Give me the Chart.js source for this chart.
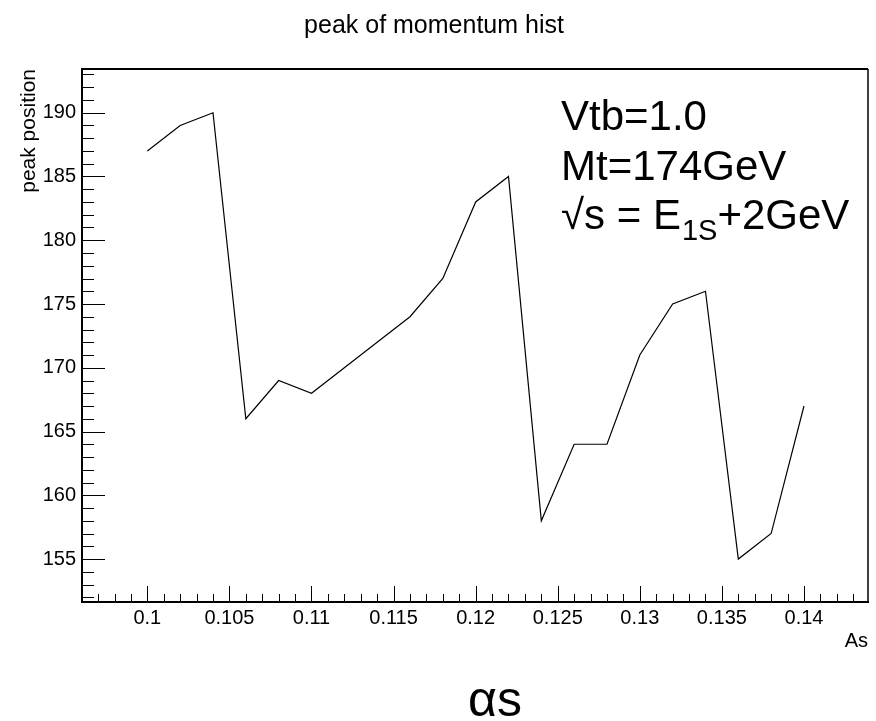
<!DOCTYPE html>
<html>
<head>
<meta charset="utf-8">
<script src="https://cdn.jsdelivr.net/npm/chart.js@4"></script>
<style>
    html, body { margin: 0; padding: 0; background: #fff; }
    #wrap { width: 876px; height: 721px; }
</style>
</head>
<body>
<div id="wrap"><canvas id="myChart"></canvas></div>
<script>
    const alphaS = [0.100, 0.102, 0.104, 0.106, 0.108, 0.110, 0.112, 0.114, 0.116, 0.118, 0.120,
                    0.122, 0.124, 0.126, 0.128, 0.130, 0.132, 0.134, 0.136, 0.138, 0.140];
    const peakPos = [187, 189, 190, 166, 169, 168, 170, 172, 174, 177, 183,
                     185, 158, 164, 164, 171, 175, 176, 155, 157, 167];
    const xTicks = [0.1, 0.105, 0.11, 0.115, 0.12, 0.125, 0.13, 0.135, 0.14];
    const yTicks = [155, 160, 165, 170, 175, 180, 185, 190];
    const infoLines = ['Vtb=1.0', 'Mt=174GeV'];

    const FONT = "'Liberation Sans', Arial, Helvetica, sans-serif";
    Chart.defaults.font.family = FONT;
    Chart.defaults.color = '#000';

    // ROOT-like frame: ticks pointing inward, top/right border, text box
    const rootFrame = {
        id: 'rootFrame',
        afterDatasetsDraw(chart) {
            const { ctx, chartArea: a, scales: { x, y } } = chart;
            ctx.save();
            ctx.strokeStyle = '#000';
            ctx.lineWidth = 1;
            ctx.beginPath();
            for (let i = 97; i <= 143; i++) {
                const px = Math.round(x.getPixelForValue(i / 1000)) + 0.5;
                const len = i % 5 === 0 ? 16 : 8;
                ctx.moveTo(px, a.bottom);
                ctx.lineTo(px, a.bottom - len);
            }
            for (let v = 152; v <= 193; v++) {
                const py = Math.round(y.getPixelForValue(v)) + 0.5;
                const len = v % 5 === 0 ? 23 : 12;
                ctx.moveTo(a.left, py);
                ctx.lineTo(a.left + len, py);
            }
            ctx.stroke();

            ctx.lineWidth = 2;
            ctx.beginPath();
            ctx.moveTo(a.left, a.top);
            ctx.lineTo(a.right, a.top);
            ctx.stroke();
            ctx.lineWidth = 1.5;
            ctx.beginPath();
            ctx.moveTo(a.right, a.top);
            ctx.lineTo(a.right, a.bottom);
            ctx.stroke();
            ctx.restore();
        },
        afterDraw(chart) {
            const ctx = chart.ctx;
            ctx.save();
            ctx.fillStyle = '#000';
            ctx.textAlign = 'left';
            ctx.textBaseline = 'alphabetic';
            ctx.font = '42px ' + FONT;
            let tx = 561;
            ctx.fillText(infoLines[0], tx, 130);
            ctx.fillText(infoLines[1], tx, 180);
            // third line with subscript
            const part1 = '\u221As = E';
            ctx.fillText(part1, tx, 229);
            tx += ctx.measureText(part1).width;
            ctx.font = '29px ' + FONT;
            ctx.fillText('1S', tx + 1, 240);
            tx += ctx.measureText('1S').width + 1;
            ctx.font = '42px ' + FONT;
            ctx.fillText('+2GeV', tx, 229);

            ctx.textAlign = 'center';
            ctx.font = '50px ' + FONT;
            ctx.fillText('\u03B1s', 495, 716);
            ctx.restore();
        }
    };

    const ctx = document.getElementById('myChart').getContext('2d');
    const chart = new Chart(ctx, {
        type: 'line',
        data: {
            datasets: [{
                label: 'peak position',
                data: alphaS.map((a, i) => ({ x: a, y: peakPos[i] })),
                borderColor: '#000',
                borderWidth: 1.2,
                pointRadius: 0,
                tension: 0,
                fill: false
            }]
        },
        options: {
            responsive: true,
            maintainAspectRatio: false,
            animation: false,
            layout: { padding: { left: 0, right: 8, top: 0, bottom: 0 } },
            plugins: {
                legend: { display: false },
                tooltip: { enabled: false },
                title: {
                    display: true,
                    text: 'peak of momentum hist',
                    color: '#000',
                    font: { size: 25, weight: 'normal', family: FONT },
                    padding: { top: 11, bottom: 28 }
                }
            },
            scales: {
                x: {
                    type: 'linear',
                    min: 0.09602,
                    max: 0.1439,
                    grid: { display: false, drawTicks: false },
                    border: { display: true, color: '#000', width: 2 },
                    afterBuildTicks: s => { s.ticks = xTicks.map(v => ({ value: v })); },
                    afterFit: s => { s.height = 119; },
                    ticks: {
                        autoSkip: false,
                        maxRotation: 0,
                        padding: 4,
                        font: { size: 20 },
                        color: '#000',
                        callback: v => String(+v.toFixed(3))
                    },
                    title: {
                        display: true,
                        text: 'As',
                        align: 'end',
                        color: '#000',
                        font: { size: 20 },
                        padding: { top: 0, bottom: 68 }
                    }
                },
                y: {
                    type: 'linear',
                    min: 151.63,
                    max: 193.43,
                    grid: { display: false, drawTicks: false },
                    border: { display: true, color: '#000', width: 2 },
                    afterBuildTicks: s => { s.ticks = yTicks.map(v => ({ value: v })); },
                    afterFit: s => { s.width = 82; },
                    ticks: {
                        autoSkip: false,
                        padding: 6,
                        font: { size: 20 },
                        color: '#000'
                    },
                    title: {
                        display: true,
                        text: 'peak position',
                        align: 'end',
                        color: '#000',
                        font: { size: 21 },
                        padding: { top: 17, bottom: 0 }
                    }
                }
            }
        },
        plugins: [rootFrame]
    });
</script>
</body>
</html>
